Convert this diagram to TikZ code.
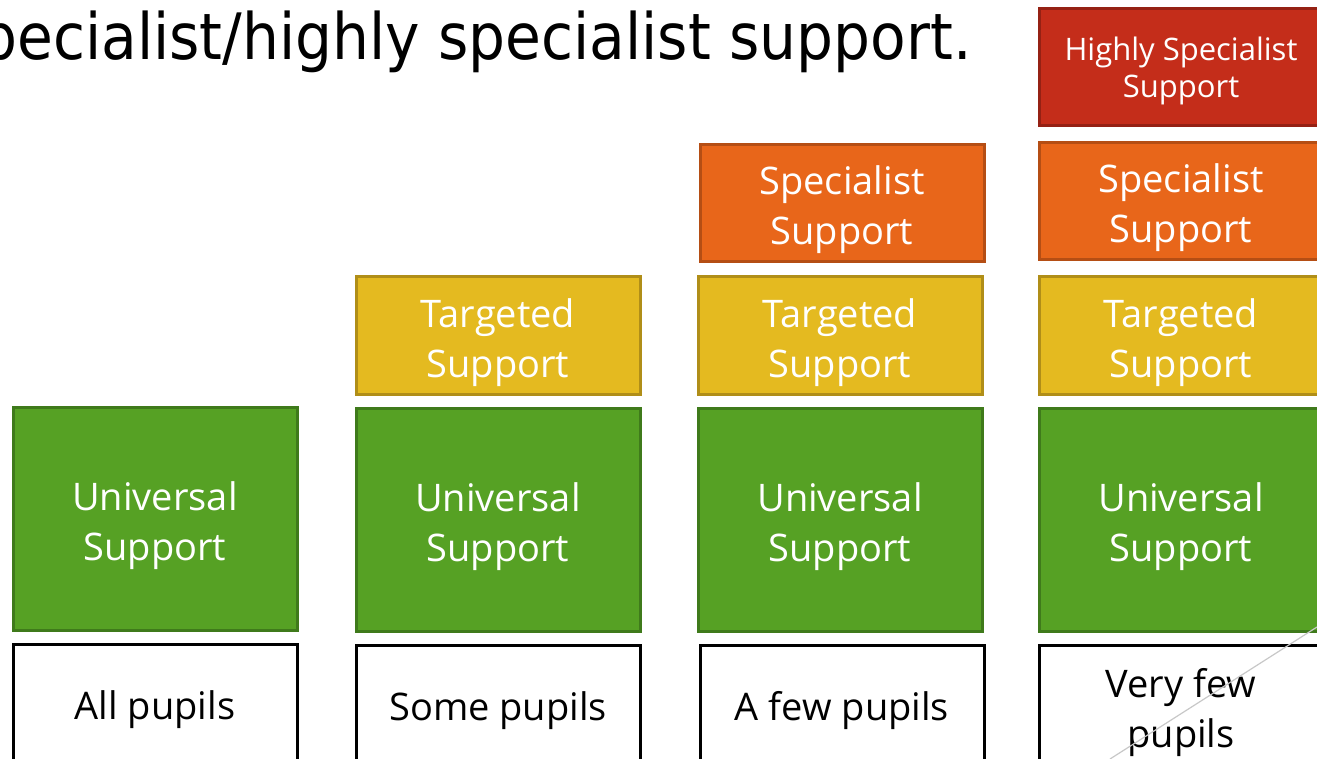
\documentclass[tikz,border=0pt]{standalone}
\usepackage{fontspec}
\setmainfont{Open Sans}
\newfontfamily\titlefont[FakeStretch=0.91]{DejaVu Sans}
\definecolor{grfill}{HTML}{56A124}
\definecolor{grdraw}{HTML}{3F7A1B}
\definecolor{yefill}{HTML}{E4BA20}
\definecolor{yedraw}{HTML}{B08E18}
\definecolor{orfill}{HTML}{E8661A}
\definecolor{ordraw}{HTML}{B54E14}
\definecolor{rdfill}{HTML}{C42D1A}
\definecolor{rddraw}{HTML}{952114}
\definecolor{diag}{HTML}{C8C8C8}
\tikzset{
  tier/.style={rectangle, inner sep=0pt, line width=3pt, minimum width=284pt, text=white, align=center, font=\fontsize{38}{50}\selectfont, text height=83pt, text depth=0pt},
  univ/.style={tier, fill=grfill, draw=grdraw, minimum height=223pt},
  targ/.style={tier, fill=yefill, draw=yedraw, minimum height=117pt},
  spec/.style={tier, fill=orfill, draw=ordraw, minimum height=117pt},
  high/.style={tier, fill=rdfill, draw=rddraw, minimum height=117pt, font=\fontsize{31}{37}\selectfont, text height=62pt},
  who/.style={rectangle, inner sep=0pt, line width=3pt, minimum width=284pt, minimum height=125pt, fill=white, draw=black, text=black, align=center, font=\fontsize{38}{50}\selectfont, text height=26pt, text depth=0pt},
}
\begin{document}
\begin{tikzpicture}[x=1pt,y=-1pt]
\useasboundingbox (0,0) rectangle (1317,759);
\clip (0,0) rectangle (1317,759);
\node[anchor=base east, font=\titlefont\fontsize{64}{70}\selectfont] (title) at (975,60) {pecialist/highly specialist support.};
% column 1
\node[univ] (u1) at (155,518.5) {Universal\\Support};
\node[who] (w1) at (155,706.5) {All pupils};
% column 2
\node[targ] (t2) at (498,335.5) {Targeted\\Support};
\node[univ] (u2) at (498,520) {Universal\\Support};
\node[who] (w2) at (498,707.5) {Some pupils};
% column 3
\node[spec] (s3) at (842,203) {Specialist\\Support};
\node[targ] (t3) at (840,335.5) {Targeted\\Support};
\node[univ] (u3) at (840,520) {Universal\\Support};
\node[who] (w3) at (842,707.5) {A few pupils};
% column 4
\node[high] (h4) at (1181,67) {Highly Specialist\\Support};
\node[spec] (s4) at (1181,201) {Specialist\\Support};
\node[targ] (t4) at (1181,335.5) {Targeted\\Support};
\node[univ] (u4) at (1181,520) {Universal\\Support};
\node[who, text height=79pt, text depth=0pt] (w4) at (1181,707.5) {Very few\\pupils};
% thin diagonal line
\coordinate (d1) at (1110,759);
\coordinate (d2) at (1317,627);
\draw[diag, line width=1.2pt] (d1) -- (d2);
\end{tikzpicture}
\end{document}
